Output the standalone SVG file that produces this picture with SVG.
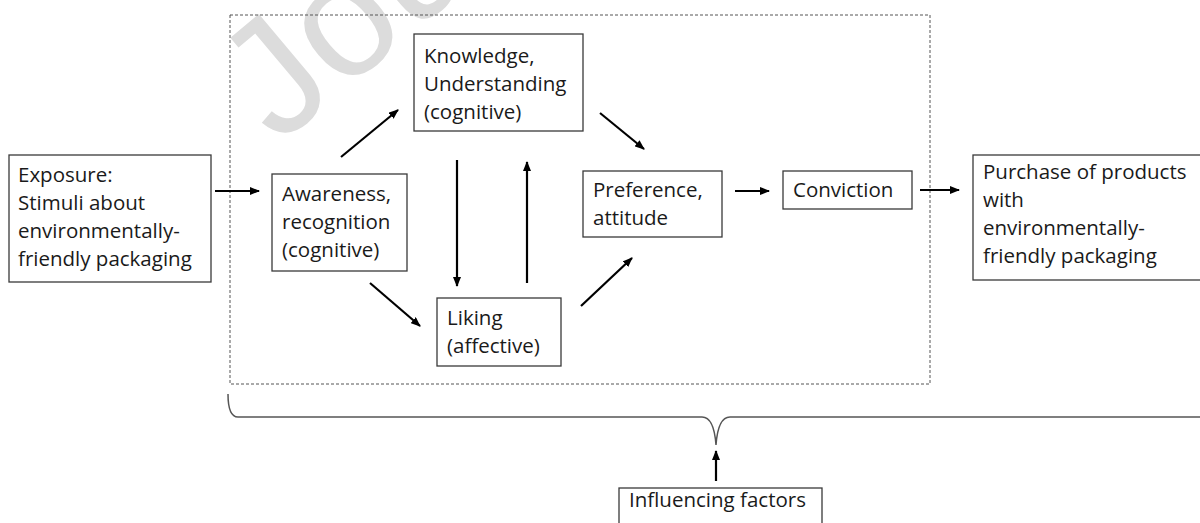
<svg xmlns="http://www.w3.org/2000/svg" width="1200" height="523" viewBox="0 0 1200 523">
<style>
.box{fill:#fff;stroke:#3a3a3a;stroke-width:1.3}
.t{font-family:"Open Sans","Noto Sans",sans-serif;font-size:20.5px;fill:#1a1a1a}
.arr{stroke:#000;stroke-width:2.2;fill:none;marker-end:url(#ah)}
.wm{font-family:"Liberation Sans",Arial,sans-serif;font-size:165px;fill:#dcdcdc}
</style>
<defs>
<marker id="ah" markerUnits="userSpaceOnUse" markerWidth="10" markerHeight="8" refX="9" refY="4" orient="auto">
<path d="M0,0 L10,4 L0,8 z" fill="#000"/>
</marker>
</defs>
<rect width="1200" height="523" fill="#fff"/>
<g id="watermark"><text class="wm" transform="translate(278,146) rotate(-40)">Jou</text></g>
<g id="scope"><rect x="230" y="15" width="700" height="369" fill="none" stroke="#555" stroke-width="1" stroke-dasharray="3,2"/></g>
<g id="exposure"><rect class="box" x="9" y="155" width="202" height="127"/>
<text class="t" x="18" y="182">Exposure:</text><text class="t" x="18" y="210">Stimuli about</text><text class="t" x="18" y="238">environmentally-</text><text class="t" x="18" y="266">friendly packaging</text></g>
<g id="knowledge"><rect class="box" x="414" y="34" width="169" height="97"/>
<text class="t" x="424" y="63">Knowledge,</text><text class="t" x="424" y="91">Understanding</text><text class="t" x="424" y="119">(cognitive)</text></g>
<g id="awareness"><rect class="box" x="272" y="174" width="135" height="97"/>
<text class="t" x="282" y="201">Awareness,</text><text class="t" x="282" y="229">recognition</text><text class="t" x="282" y="257">(cognitive)</text></g>
<g id="liking"><rect class="box" x="437" y="298" width="124" height="68"/>
<text class="t" x="447" y="325">Liking</text><text class="t" x="447" y="353">(affective)</text></g>
<g id="preference"><rect class="box" x="583" y="171" width="139" height="66"/>
<text class="t" x="593" y="197">Preference,</text><text class="t" x="593" y="225">attitude</text></g>
<g id="conviction"><rect class="box" x="783" y="171" width="129" height="38"/>
<text class="t" x="793" y="197">Conviction</text></g>
<g id="purchase"><rect class="box" x="973" y="155" width="240" height="125"/>
<text class="t" x="983" y="179">Purchase of products</text><text class="t" x="983" y="207">with</text><text class="t" x="983" y="235">environmentally-</text><text class="t" x="983" y="263">friendly packaging</text></g>
<g id="influencing"><rect class="box" x="619" y="488" width="203" height="50"/>
<text class="t" x="629" y="507">Influencing factors</text></g>
<g id="connectors">
<line class="arr" x1="215" y1="191" x2="259" y2="191"/>
<line class="arr" x1="341" y1="157" x2="398" y2="110"/>
<line class="arr" x1="600" y1="113" x2="644" y2="149"/>
<line class="arr" x1="457" y1="160" x2="457" y2="286"/>
<line class="arr" x1="527" y1="283" x2="527" y2="162"/>
<line class="arr" x1="370" y1="283" x2="420" y2="326"/>
<line class="arr" x1="581" y1="306" x2="632" y2="258"/>
<line class="arr" x1="735" y1="191" x2="769" y2="191"/>
<line class="arr" x1="920" y1="190" x2="959" y2="190"/>
<line class="arr" x1="716" y1="481" x2="716" y2="451"/>
<path d="M228,394 Q228,417 238,417 L702,417 Q714,417 716,445 Q718,417 730,417 L1200,417" fill="none" stroke="#555" stroke-width="1.5"/>
</g>
</svg>
